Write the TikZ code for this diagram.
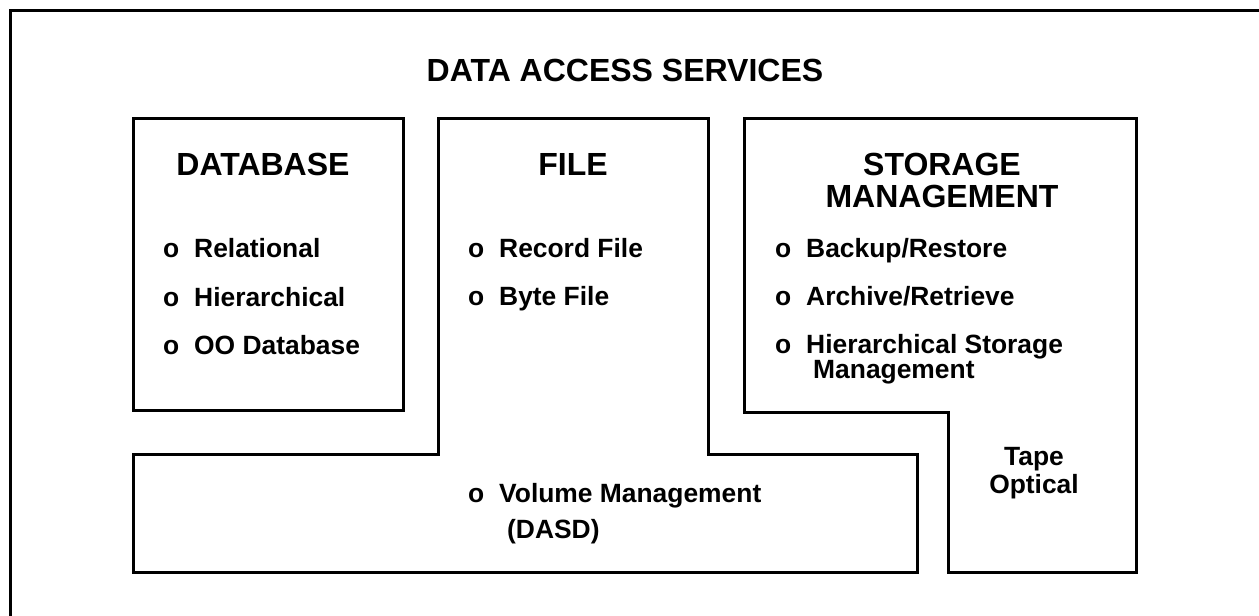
\documentclass[tikz,border=0pt]{standalone}
\usepackage{fontspec}
\setmainfont{Liberation Sans}
\tikzset{
  frame/.style={draw=black, line width=3pt, line join=miter},
  head/.style={font=\bfseries\fontsize{32}{35}\selectfont, inner sep=0pt, anchor=base},
  item/.style={font=\bfseries\fontsize{26.4}{28}\selectfont, inner sep=0pt, anchor=base west},
  plain/.style={font=\bfseries\fontsize{26.4}{28}\selectfont, inner sep=0pt, anchor=base},
}
\newcommand{\bul}[1]{\makebox[31pt][l]{o}#1}
\begin{document}
\begin{tikzpicture}[x=1pt, y=-1pt]
\useasboundingbox (0,0) rectangle (1259,616);
% outer frame, running past the page edges
\draw[frame] (10,640) -- (10,10) -- (1280,10);

% title
\node[head] (title) at (625,81) {DATA ACCESS SERVICES};

% database box
\draw[frame] (133,118) rectangle (403,410);
\node[head] (dbh) at (263,175) {DATABASE};
\node[item] (db1) at (163,257) {\bul{Relational}};
\node[item] (db2) at (163,306) {\bul{Hierarchical}};
\node[item] (db3) at (163,354) {\bul{OO Database}};

% file column joined with the volume bar
\draw[frame] (438,118) -- (438,454) -- (133,454) -- (133,572) -- (917,572)
  -- (917,454) -- (708,454) -- (708,118) -- cycle;
\node[head] (fileh) at (573,175) {FILE};
\node[item] (f1) at (468,257) {\bul{Record File}};
\node[item] (f2) at (468,305) {\bul{Byte File}};
\node[item] (vol) at (468,502) {\bul{Volume Management}};
\node[item] (dasd) at (507,538) {(DASD)};

% storage management block
\draw[frame] (744,118) -- (744,412) -- (948,412) -- (948,572) -- (1136,572)
  -- (1136,118) -- cycle;
\node[head] (sth1) at (942,175) {STORAGE};
\node[head] (sth2) at (942,207) {MANAGEMENT};
\node[item] (s1) at (775,257) {\bul{Backup/Restore}};
\node[item] (s2) at (775,305) {\bul{Archive/Retrieve}};
\node[item] (s3) at (775,353) {\bul{Hierarchical Storage}};
\node[item] (s4) at (813,378) {Management};
\node[plain] (tape) at (1034,465) {Tape};
\node[plain] (opt) at (1034,493) {Optical};
\end{tikzpicture}
\end{document}
